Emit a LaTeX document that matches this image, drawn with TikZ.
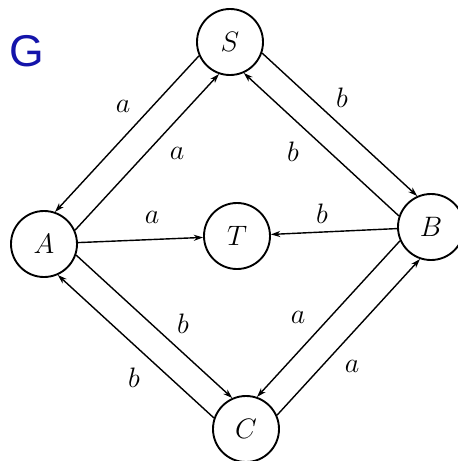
\documentclass[tikz,border=0pt]{standalone}
\usepackage{fontspec}
\newfontfamily\gfont{Liberation Sans}
\usetikzlibrary{arrows.meta}
\definecolor{gblue}{RGB}{20,20,170}
\begin{document}
\begin{tikzpicture}[x=0.015cm,y=-0.015cm,
  state/.style={draw,circle,line width=0.8pt,minimum size=0.99cm,inner sep=0pt,font=\large},
  trans/.style={line width=0.6pt,-{Stealth[length=4pt,width=2.6pt]}},
  lbl/.style={font=\large}]
\useasboundingbox (0,0) rectangle (458,461);
\node[text=gblue,font=\gfont\fontsize{19}{22}\selectfont] (title) at (27,51) {G};
\node[state] (S) at (230,42) {$S$};
\node[state] (A) at (44,244) {$A$};
\node[state] (T) at (237,236) {$T$};
\node[state] (B) at (431,227) {$B$};
\node[state] (C) at (246,429) {$C$};
% S and A
\draw[trans] (S.204) -- (A.71);
\draw[trans] (A.24) -- (S.251);
% S and B
\draw[trans] (S.341) -- (B.114);
\draw[trans] (B.161) -- (S.294);
% into T
\draw[trans] (A) -- (T);
\draw[trans] (B) -- (T);
% A and C
\draw[trans] (A.341) -- (C.114);
\draw[trans] (C.161) -- (A.294);
% B and C
\draw[trans] (B.204) -- (C.71);
\draw[trans] (C.24) -- (B.251);
% labels
\node[lbl] (l1) at (123,106) {$a$};
\node[lbl] (l2) at (177,153) {$a$};
\node[lbl] (l3) at (152,217) {$a$};
\node[lbl] (l4) at (342,98) {$b$};
\node[lbl] (l5) at (293,152) {$b$};
\node[lbl] (l6) at (322,214) {$b$};
\node[lbl] (l7) at (183,324) {$b$};
\node[lbl] (l8) at (134,378) {$b$};
\node[lbl] (l9) at (298,317) {$a$};
\node[lbl] (l10) at (352,366) {$a$};
\end{tikzpicture}
\end{document}
